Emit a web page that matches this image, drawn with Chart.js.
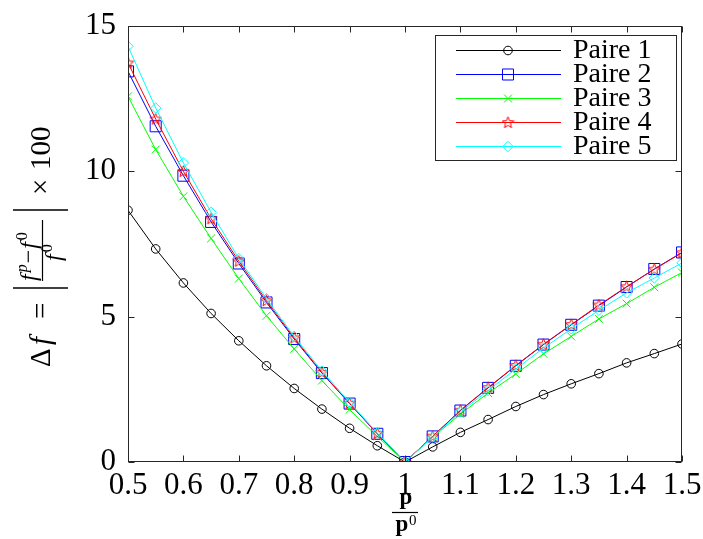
<!DOCTYPE html>
<html><head><meta charset="utf-8">
<script src="https://cdn.jsdelivr.net/npm/chart.js@4"></script>
<style>html,body{margin:0;padding:0;background:#fff}</style>
</head><body>
<canvas id="c" width="703" height="539"></canvas>
<script>
// ---- data ----
const xValues = [0.5,0.55,0.6,0.65,0.7,0.75,0.8,0.85,0.9,0.95,1,1.05,1.1,1.15,1.2,1.25,1.3,1.35,1.4,1.45,1.5];
const paire1 = [8.66,7.33,6.16,5.11,4.17,3.31,2.53,1.82,1.16,0.56,0,0.52,1.02,1.46,1.91,2.32,2.69,3.04,3.41,3.73,4.06];
const paire2 = [13.44,11.55,9.85,8.26,6.83,5.49,4.23,3.06,2.01,0.97,0,0.88,1.77,2.55,3.31,4.04,4.72,5.38,6.02,6.64,7.21];
const paire3 = [12.58,10.75,9.14,7.69,6.31,5.03,3.89,2.80,1.80,0.88,0,0.85,1.65,2.37,3.03,3.72,4.32,4.92,5.45,6.01,6.52];
const paire4 = [13.73,11.80,10.00,8.37,6.91,5.55,4.27,3.08,2.02,0.98,0,0.88,1.78,2.56,3.32,4.05,4.73,5.40,6.03,6.63,7.20];
const paire5 = [14.30,12.18,10.29,8.59,7.00,5.62,4.32,3.13,2.05,1.00,0,0.86,1.72,2.46,3.20,3.92,4.58,5.22,5.82,6.33,6.85];
const seriesNames = ['Paire 1','Paire 2','Paire 3','Paire 4','Paire 5'];
const xTickValues = [0.5,0.6,0.7,0.8,0.9,1,1.1,1.2,1.3,1.4,1.5];
const xTickLabels = ['0.5','0.6','0.7','0.8','0.9','1','1.1','1.2','1.3','1.4','1.5'];
const yTickValues = [0,5,10,15];
const yTickLabels = ['0','5','10','15'];

const SERIF = '"Liberation Serif", "Times New Roman", serif';
Chart.defaults.font.family = SERIF;
Chart.defaults.color = '#000';

// pentagram marker
function makeStar(color){
  const c = document.createElement('canvas');
  c.width = 13; c.height = 13;
  const g = c.getContext('2d');
  g.strokeStyle = color; g.lineWidth = 1;
  g.beginPath();
  for (let i=0;i<10;i++){
    const r = (i%2===0)?6:2.6;
    const a = -Math.PI/2 + i*Math.PI/5;
    const px = 6.5 + r*Math.cos(a), py = 6.8 + r*Math.sin(a);
    if(i===0) g.moveTo(px,py); else g.lineTo(px,py);
  }
  g.closePath(); g.stroke();
  return c;
}
const starImg = makeStar('#ff0000');

const styles = [
  {color:'#000000', pointStyle:'circle', radius:4.3},
  {color:'#0000ff', pointStyle:'rect', radius:7.8},
  {color:'#00ff00', pointStyle:'crossRot', radius:5.6},
  {color:'#ff0000', pointStyle:starImg, radius:6},
  {color:'#00ffff', pointStyle:'rectRot', radius:5.2}
];
const allSeries = [paire1,paire2,paire3,paire4,paire5];

const datasets = allSeries.map((s,i)=>({
  label: seriesNames[i],
  data: s.map((v,j)=>({x:xValues[j], y:v})),
  borderColor: styles[i].color,
  backgroundColor: 'rgba(0,0,0,0)',
  pointBorderColor: styles[i].color,
  pointBackgroundColor: 'rgba(0,0,0,0)',
  pointStyle: styles[i].pointStyle,
  pointRadius: styles[i].radius,
  pointBorderWidth: 1,
  borderWidth: 1,
  tension: 0,
  fill: false,
  order: 5 - i
}));

function zeroPad(s){ s.paddingTop = 0; s.paddingBottom = 0; s.paddingLeft = 0; s.paddingRight = 0; }

const boxPlugin = {
  id: 'matlabBox',
  afterDatasetsDraw(chart){
    const {ctx, chartArea:a, scales} = chart;
    const xs = scales.x, ys = scales.y;
    ctx.save();
    ctx.strokeStyle = '#262626';
    ctx.lineWidth = 1;
    const L = Math.round(a.left)+0.5, R = Math.round(a.right)-0.5, T = Math.round(a.top)+0.5, B = Math.round(a.bottom)-0.5;
    ctx.strokeRect(L, T, R-L, B-T);
    const tl = 6;
    ctx.beginPath();
    xs.ticks.forEach(t=>{
      const px = Math.round(xs.getPixelForValue(t.value))+0.5;
      ctx.moveTo(px, B); ctx.lineTo(px, B-tl);
      ctx.moveTo(px, T); ctx.lineTo(px, T+tl);
    });
    ys.ticks.forEach(t=>{
      const py = Math.round(ys.getPixelForValue(t.value))+0.5;
      ctx.moveTo(L, py); ctx.lineTo(L+tl, py);
      ctx.moveTo(R, py); ctx.lineTo(R-tl, py);
    });
    ctx.stroke();
    ctx.restore();
  },
  afterDraw(chart){
    const ctx = chart.ctx;
    ctx.save();
    // ---- legend ----
    ctx.fillStyle = '#fff';
    ctx.fillRect(435, 35, 241, 125);
    ctx.strokeStyle = '#262626'; ctx.lineWidth = 1;
    ctx.strokeRect(435.5, 35.5, 241, 125);
    const rows = [50, 74, 98, 122, 146];
    chart.data.datasets.forEach((ds,i)=>{
      const yy = rows[i] + 0.5;
      ctx.strokeStyle = ds.borderColor; ctx.lineWidth = 1;
      ctx.beginPath(); ctx.moveTo(456, yy); ctx.lineTo(561, yy); ctx.stroke();
      ctx.strokeStyle = ds.pointBorderColor; ctx.fillStyle = 'rgba(0,0,0,0)';
      Chart.helpers.drawPoint(ctx, {pointStyle: ds.pointStyle, radius: ds.pointRadius, borderWidth: 1, rotation: 0}, 508, yy);
      ctx.fillStyle = '#000';
      ctx.font = '28px ' + SERIF;
      ctx.textBaseline = 'middle'; ctx.textAlign = 'left';
      ctx.fillText(ds.label, 573, rows[i]+1);
    });

    // ---- y label: Δf = |(f^p − f^0)/f^0| × 100 ----
    ctx.translate(40, 247);
    ctx.rotate(-Math.PI/2);
    ctx.fillStyle = '#000'; ctx.strokeStyle = '#000';
    ctx.textAlign = 'left'; ctx.textBaseline = 'alphabetic';
    const big = '29px ' + SERIF, bigI = 'italic 29px ' + SERIF;
    const base = 10;
    ctx.font = big; ctx.fillText('\u0394', -120, base);
    ctx.font = bigI; ctx.fillText('f', -98, base);
    ctx.font = big; ctx.fillText('=', -72, base);
    ctx.lineWidth = 1.5;
    ctx.beginPath();
    ctx.moveTo(-41, -27); ctx.lineTo(-41, 28);
    ctx.moveTo(37, -27); ctx.lineTo(37, 28);
    ctx.stroke();
    ctx.lineWidth = 1.2;
    ctx.beginPath(); ctx.moveTo(-34, 2.5); ctx.lineTo(27, 2.5); ctx.stroke();
    // numerator
    const sm = '24px ' + SERIF, smI = 'italic 24px ' + SERIF, tiny = '16px ' + SERIF, tinyI = 'italic 16px ' + SERIF;
    let u = -34; const nb = -4;
    ctx.font = smI; ctx.fillText('f', u, nb); u += ctx.measureText('f').width + 2;
    ctx.font = tinyI; ctx.fillText('p', u, nb-9); u += ctx.measureText('p').width + 1;
    ctx.font = sm; ctx.fillText('\u2212', u, nb); u += ctx.measureText('\u2212').width + 1;
    ctx.font = smI; ctx.fillText('f', u, nb); u += ctx.measureText('f').width + 2;
    ctx.font = tiny; ctx.fillText('0', u, nb-9);
    // denominator
    u = -14; const db = 21;
    ctx.font = smI; ctx.fillText('f', u, db); u += ctx.measureText('f').width + 2;
    ctx.font = tiny; ctx.fillText('0', u, db-9);
    ctx.font = big; ctx.fillText('\u00d7', 52, base);
    ctx.fillText('100', 77, base);
    ctx.restore();

    // ---- x label: p / p^0 ----
    ctx.save();
    ctx.fillStyle = '#000'; ctx.strokeStyle = '#000';
    ctx.textBaseline = 'alphabetic'; ctx.textAlign = 'center';
    ctx.font = 'bold 23px ' + SERIF;
    ctx.fillText('p', 406, 504);
    ctx.lineWidth = 1.2;
    ctx.beginPath(); ctx.moveTo(392, 512.5); ctx.lineTo(418, 512.5); ctx.stroke();
    ctx.fillText('p', 402, 531);
    ctx.font = '15px ' + SERIF; ctx.textAlign = 'left';
    ctx.fillText('0', 409, 525);
    ctx.restore();
  }
};

new Chart(document.getElementById('c'), {
  type: 'line',
  data: { datasets },
  options: {
    responsive: false,
    animation: false,
    devicePixelRatio: 1,
    layout: { padding: { left: 0, top: 26, right: 21, bottom: 0 } },
    plugins: { legend: { display: false }, tooltip: { enabled: false } },
    scales: {
      x: {
        type: 'linear', min: 0.5, max: 1.5,
        grid: { display: false, drawTicks: false },
        border: { display: false },
        afterBuildTicks: s => { s.ticks = xTickValues.map(v => ({value: v})); },
        afterFit: s => { s.height = 77; zeroPad(s); },
        ticks: { font: { size: 31 }, padding: 5, maxRotation: 0, autoSkip: false,
                 callback: (v, i) => xTickLabels[i] }
      },
      y: {
        type: 'linear', min: 0, max: 15,
        grid: { display: false, drawTicks: false },
        border: { display: false },
        afterBuildTicks: s => { s.ticks = yTickValues.map(v => ({value: v})); },
        afterFit: s => { s.width = 128; zeroPad(s); },
        ticks: { font: { size: 31 }, padding: 12,
                 callback: (v, i) => yTickLabels[i] }
      }
    }
  },
  plugins: [boxPlugin]
});
</script>
</body></html>
